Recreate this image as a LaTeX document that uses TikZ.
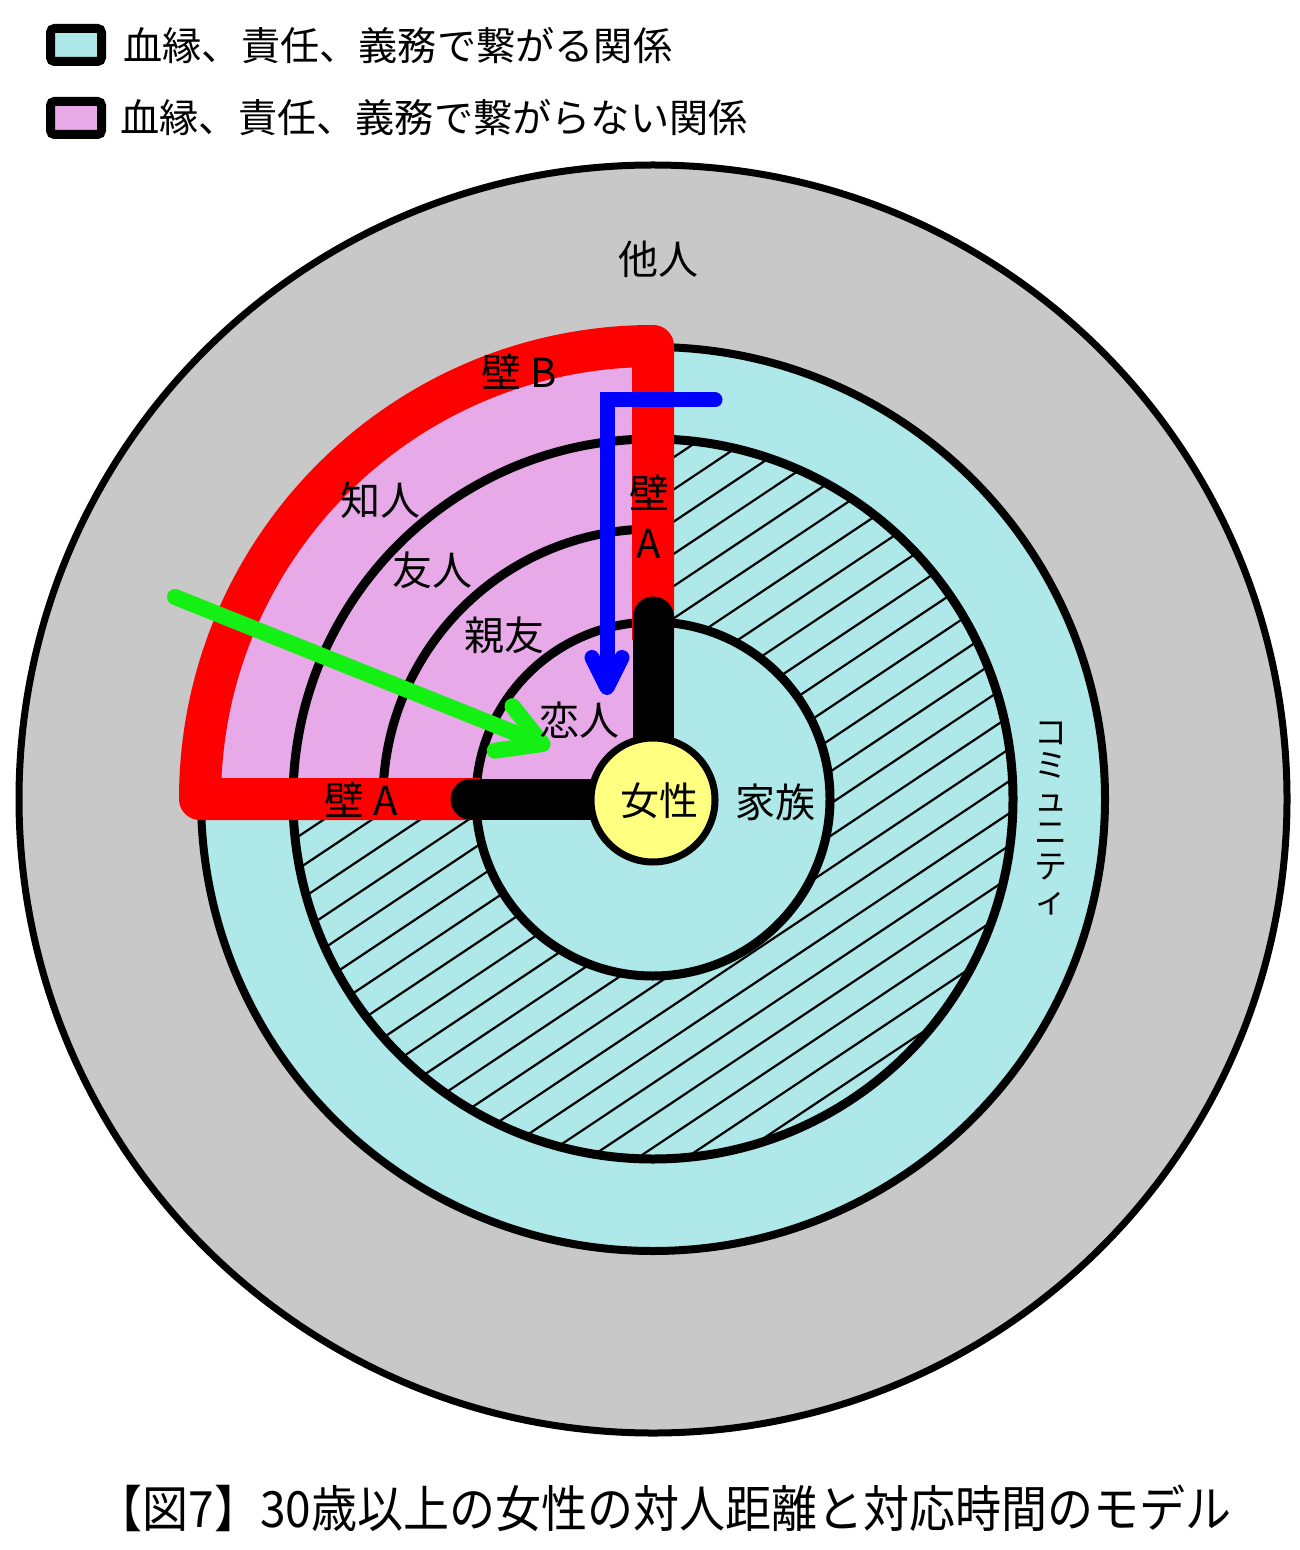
\documentclass[tikz,border=0pt]{standalone}
\usepackage{fontspec}
\setmainfont{Noto Sans CJK JP}
\usepackage{graphicx}
\usetikzlibrary{arrows.meta}
\definecolor{cgray}{RGB}{200,200,200}
\definecolor{ccyan}{RGB}{174,232,232}
\definecolor{cpink}{RGB}{231,169,231}
\definecolor{cyellow}{RGB}{255,255,128}
\definecolor{cred}{RGB}{255,0,0}
\definecolor{cblue}{RGB}{0,0,255}
\definecolor{cgreen}{RGB}{20,240,20}
\begin{document}
\begin{tikzpicture}[x=0.5pt,y=-0.5pt,
  ringline/.style={draw=black,line width=4.5pt},
  hatchline/.style={draw=black,line width=1.1pt},
  wallred/.style={draw=cred,line width=21pt,line join=round},
  wallblack/.style={draw=black,line width=20.5pt,line cap=round,line join=round},
  lbl/.style={font=\fontsize{20pt}{25pt}\selectfont,inner sep=0pt,align=center},
  legtext/.style={font=\fontsize{19.6pt}{24pt}\selectfont,inner sep=0pt,anchor=west},
  legbox/.style={draw=black,line width=4.5pt,rounded corners=2pt,minimum width=25.5pt,minimum height=16.5pt,inner sep=0pt},
  bluearrow/.style={draw=cblue,line width=7.5pt,line cap=round,-{Straight Barb[length=15pt,width=15pt,round]}},
  greenarrow/.style={draw=cgreen,line width=8pt,line cap=round,-{Straight Barb[length=21pt,width=24pt,round]}}
]
\useasboundingbox[fill=white] (0,0) rectangle (1299,1550);
% legend
\node[legbox,fill=ccyan] (box1) at (76,45) {};
\node[legtext] (leg1) at (123,46) {血縁、責任、義務で繋がる関係};
\node[legbox,fill=cpink] (box2) at (76,118) {};
\node[legtext] (leg2) at (120,118) {血縁、責任、義務で繋がらない関係};
% circles
\coordinate (c) at (653,799);
\fill[cgray] (c) circle[radius=634];
\draw[draw=black,line width=3.5pt] (c) circle[radius=634];
\fill[ccyan] (c) circle[radius=452];
\begin{scope}
  \clip (c) circle[radius=360];
  \foreach \k in {-15,...,15} {
    \pgfmathsetmacro\o{-4.8+26.8*\k}
    \draw[hatchline] ({653+\o*0.555-420*0.832},{799+\o*0.832+420*0.555}) -- ({653+\o*0.555+420*0.832},{799+\o*0.832-420*0.555});
  }
\end{scope}
\fill[ccyan] (c) circle[radius=177];
% pink sector
\fill[cpink] (c) -- (653,346) arc[start angle=-90,end angle=-180,radius=453] -- cycle;
% ring lines
\draw[draw=black,line width=4pt] (c) circle[radius=452];
\draw[ringline] (c) circle[radius=360];
\draw[ringline] (c) circle[radius=177];
\draw[ringline] (653,529) arc[start angle=-90,end angle=-180,radius=270];
% walls
\draw[wallred] (653,640) -- (653,346) arc[start angle=-90,end angle=-180,radius=453] -- (480,799);
\draw[wallblack] (653,617) -- (653,799) -- (471,799);
% center
\node[circle,draw=black,line width=3.5pt,fill=cyellow,minimum size=62pt,inner sep=0pt] (woman) at (653,800) {};
% arrows
\coordinate (bs) at (715,400);
\coordinate (bc) at (607,400);
\coordinate (be) at (607,695);
\draw[bluearrow] (bs) -- (bc) -- (be);
\coordinate (gs) at (175,597);
\coordinate (ge) at (550,747);
\draw[greenarrow] (gs) -- (ge);
% labels
\node[lbl] (tanin) at (658,259) {他人};
\node[lbl] (kabeB) at (519,372) {壁 B};
\node[lbl] (chijin) at (380,500) {知人};
\node[lbl] (yujin) at (432,570) {友人};
\node[lbl] (shinyu) at (504,635) {親友};
\node[lbl] (koibito) at (579,720) {恋人};
\node[lbl] (kabeAv) at (649,517) {壁\\A};
\node[lbl] (kabeAh) at (361,800) {壁 A};
\node[lbl,font=\fontsize{19.5pt}{24pt}\selectfont] (josei) at (659,801) {女性};
\node[lbl] (kazoku) at (775,802) {家族};
\node[lbl,font=\fontsize{16.5pt}{16.8pt}\selectfont] (community) at (1051,818) {コ\\ミ\\ュ\\ニ\\テ\\ィ};
% caption
\node[inner sep=0pt] (caption) at (664,1508) {\fontsize{25pt}{30pt}\selectfont\scalebox{0.92}[1]{【図7】30歳以上の女性の対人距離と対応時間のモデル}};
\end{tikzpicture}
\end{document}
